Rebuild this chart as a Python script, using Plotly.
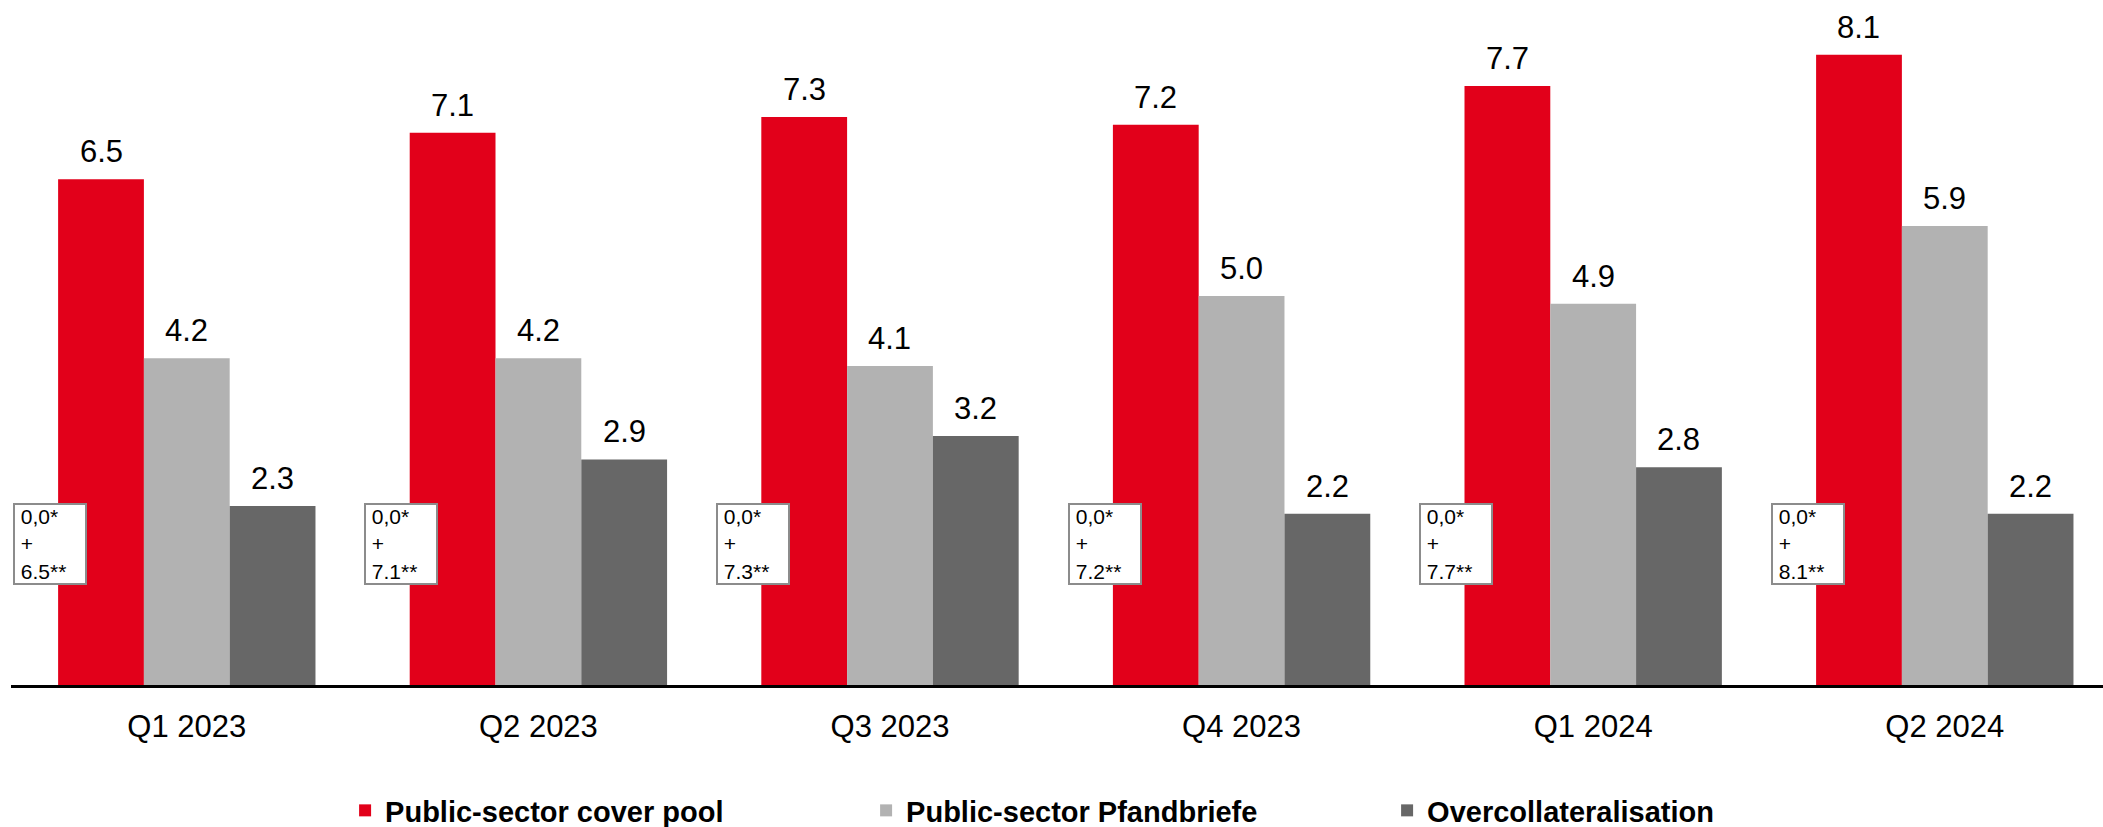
import plotly.graph_objects as go

categories = ["Q1 2023", "Q2 2023", "Q3 2023", "Q4 2023", "Q1 2024", "Q2 2024"]
cover_pool = [6.5, 7.1, 7.3, 7.2, 7.7, 8.1]
pfandbriefe = [4.2, 4.2, 4.1, 5.0, 4.9, 5.9]
overcollat = [2.3, 2.9, 3.2, 2.2, 2.8, 2.2]
box_part1 = ["0,0*"] * 6
box_part2 = ["6.5**", "7.1**", "7.3**", "7.2**", "7.7**", "8.1**"]

series_names = ["Public-sector cover pool", "Public-sector Pfandbriefe", "Overcollateralisation"]
colors = ["#E2001A", "#B2B2B2", "#676767"]
series = [cover_pool, pfandbriefe, overcollat]

FONT = "Liberation Sans, Arial, sans-serif"

fig = go.Figure()
for name, vals, col in zip(series_names, series, colors):
    fig.add_trace(go.Bar(
        x=categories, y=vals, name=name,
        marker=dict(color=col, line=dict(width=0)),
        hoverinfo="x+y+name",
    ))

W, H = 2103, 827
ML, MR, MT, MB = 11, 0, 0, 142
plot_w = W - ML - MR
x_range = [-0.5, 5.45]
cat_px = plot_w / (x_range[1] - x_range[0])
bargap = 0.268
bar_px = cat_px * (1 - bargap) / 3

annotations = []
# value labels above bars
for si, vals in enumerate(series):
    dx = (si - 1) * bar_px
    for c, v in zip(categories, vals):
        annotations.append(dict(
            x=c, y=v, xref="x", yref="y", text=f"{v:.1f}",
            showarrow=False, xshift=dx, xanchor="center", yanchor="bottom", yshift=8,
            font=dict(family=FONT, size=31, color="black"),
        ))
# boxed notes
for c, p1, p2 in zip(categories, box_part1, box_part2):
    annotations.append(dict(
        x=c, y=0.206, xref="x", yref="paper",
        text=f"&nbsp;{p1}<br>&nbsp;+<br>&nbsp;{p2}",
        showarrow=False, xshift=-137, xanchor="center", yanchor="middle",
        align="left", width=70,
        bgcolor="white", bordercolor="#8C8C8C", borderwidth=2, borderpad=0,
        font=dict(family=FONT, size=21, color="black"),
    ))

fig.update_layout(
    width=W, height=H,
    margin=dict(l=ML, r=MR, t=MT, b=MB, pad=0, autoexpand=False),
    paper_bgcolor="white", plot_bgcolor="white",
    barmode="group", bargap=bargap, bargroupgap=0,
    xaxis=dict(range=x_range, showline=True, linecolor="black", linewidth=3,
               showgrid=False, zeroline=False, ticks="", automargin=False,
               tickfont=dict(family=FONT, size=31, color="black"),
               ticklabelstandoff=12),
    yaxis=dict(range=[0, 8.805], visible=False, showgrid=False, zeroline=False,
               automargin=False),
    legend=dict(orientation="h", x=0.1597, xanchor="left", y=-0.146, yanchor="top",
                entrywidth=476, entrywidthmode="pixels",
                font=dict(family=FONT, size=29, color="black", weight="bold"),
                traceorder="normal"),
    annotations=annotations,
    showlegend=True,
)

fig.write_html(
    "out.html",
    config={"displayModeBar": False},
    post_script=(
        "document.documentElement.style.margin='0';"
        "document.body.style.margin='0';"
        "document.body.style.padding='0';"
        "document.documentElement.style.overflow='hidden';"
        "document.body.style.overflow='hidden';"
    ),
)
